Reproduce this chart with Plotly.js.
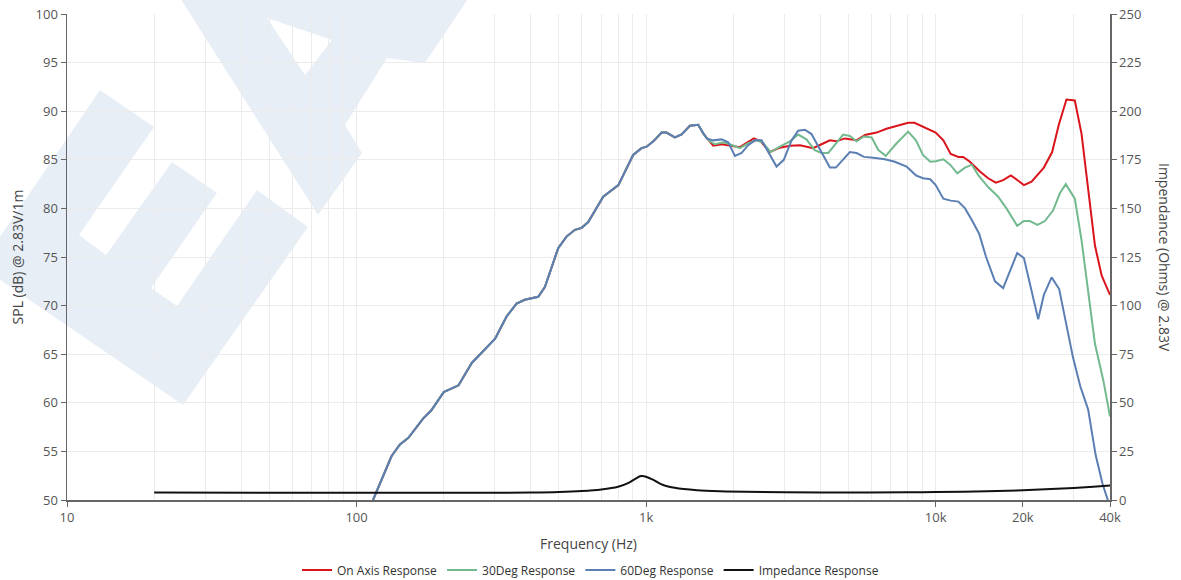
<!DOCTYPE html>
<html>
<head>
<meta charset="utf-8">
<script src="https://cdn.plot.ly/plotly-3.0.1.min.js"></script>
<style>html,body{margin:0;padding:0;background:#fff;}#chart{width:1181px;height:580px;}</style>
</head>
<body>
<div id="chart"></div>
<script>
// Shared low/mid frequency section (all three SPL curves coincide here)
const sharedFreq = [114, 132, 141, 151, 170, 181, 200, 225, 250, 301, 330, 357, 381, 424, 447, 497, 531, 568, 599, 631, 711, 802, 902, 964, 1004, 1059, 1131, 1176, 1257, 1326, 1417, 1513];
const sharedSpl  = [50.0, 54.5, 55.7, 56.4, 58.4, 59.2, 61.1, 61.8, 64.1, 66.6, 68.9, 70.2, 70.6, 70.9, 71.9, 75.9, 77.1, 77.8, 78.0, 78.6, 81.2, 82.4, 85.5, 86.2, 86.35, 86.9, 87.8, 87.8, 87.3, 87.6, 88.5, 88.6];

// On Axis Response (above 1.5 kHz)
const onAxisFreq = [1575, 1706, 1823, 1946, 2108, 2223, 2357, 2486, 2676, 2896, 3138, 3402, 3770, 4035, 4312, 4545, 4854, 5120, 5330, 5700, 6250, 6760, 7430, 8036, 8450, 9040, 9780, 10000, 10630, 11270, 11980, 12450, 13130, 14220, 15180, 16140, 17100, 18180, 19280, 20170, 21440, 23640, 25250, 26620, 28290, 30240, 31890, 33620, 35480, 37420, 40000];
const onAxisSpl  = [87.7, 86.45, 86.6, 86.45, 86.3, 86.75, 87.2, 86.9, 85.8, 86.25, 86.45, 86.5, 86.2, 86.6, 87.0, 86.9, 87.2, 87.1, 87.0, 87.55, 87.8, 88.2, 88.5, 88.8, 88.8, 88.4, 88.0, 87.8, 87.0, 85.6, 85.3, 85.3, 84.8, 83.8, 83.1, 82.65, 82.9, 83.4, 82.85, 82.4, 82.75, 84.2, 85.8, 88.6, 91.2, 91.1, 87.7, 82.2, 76.2, 73.1, 71.1];

// 30Deg Response (above 1.5 kHz)
const deg30Freq = [1575, 1660, 1730, 1847, 1946, 2108, 2251, 2406, 2536, 2690, 2896, 3138, 3350, 3578, 3823, 4035, 4256, 4484, 4792, 5055, 5330, 5651, 6013, 6339, 6727, 7330, 8036, 8546, 9040, 9580, 10000, 10630, 11220, 11880, 12630, 13330, 14050, 15180, 16440, 17560, 19120, 20170, 21140, 22470, 23820, 25450, 26840, 28140, 30240, 31890, 33620, 35480, 37930, 40000];
const deg30Spl  = [87.7, 86.9, 86.6, 86.8, 86.6, 86.2, 86.7, 87.0, 86.75, 85.8, 86.35, 86.9, 87.6, 87.1, 86.0, 85.7, 85.7, 86.5, 87.6, 87.45, 86.9, 87.4, 87.3, 86.0, 85.4, 86.7, 87.9, 87.0, 85.5, 84.8, 84.85, 85.05, 84.5, 83.6, 84.2, 84.5, 83.4, 82.2, 81.2, 80.0, 78.2, 78.7, 78.7, 78.3, 78.7, 79.8, 81.55, 82.5, 81.0, 76.75, 71.3, 66.1, 62.3, 58.6];

// 60Deg Response (above 1.5 kHz)
const deg60Freq = [1618, 1706, 1823, 1921, 2026, 2137, 2251, 2375, 2505, 2642, 2821, 2989, 3178, 3350, 3532, 3725, 4035, 4312, 4521, 5055, 5330, 5651, 6085, 6677, 7226, 7937, 8546, 9040, 9580, 10000, 10630, 11270, 11980, 12630, 13330, 14130, 14930, 16030, 17100, 19120, 20170, 21440, 22600, 23640, 25140, 26700, 28290, 29780, 31580, 33620, 35700, 37670, 39500];
const deg60Spl  = [87.2, 87.0, 87.1, 86.8, 85.4, 85.7, 86.5, 87.0, 87.0, 85.8, 84.3, 85.0, 87.0, 88.0, 88.1, 87.65, 85.7, 84.2, 84.2, 85.8, 85.7, 85.3, 85.2, 85.05, 84.8, 84.3, 83.4, 83.1, 83.0, 82.4, 81.0, 80.8, 80.7, 80.0, 78.8, 77.4, 75.0, 72.5, 71.8, 75.4, 74.9, 71.6, 68.6, 71.1, 72.9, 71.7, 67.8, 64.7, 61.7, 59.3, 54.6, 51.7, 49.8];

// Impedance Response (Ohms)
const impFreq = [20, 50, 100, 200, 300, 400, 500, 600, 700, 800, 870, 920, 960, 1000, 1060, 1120, 1200, 1350, 1500, 1800, 2200, 3000, 5000, 8000, 10000, 15000, 20000, 25000, 30000, 35000, 40000];
const impOhms = [3.8, 3.75, 3.7, 3.7, 3.75, 3.85, 4.1, 4.6, 5.4, 6.8, 8.8, 11.0, 12.3, 12.0, 10.3, 8.3, 6.8, 5.6, 5.0, 4.5, 4.2, 4.0, 3.9, 4.0, 4.1, 4.5, 5.0, 5.6, 6.2, 6.8, 7.4];

// Axis ticks
const xTickVals = [10, 100, 1000, 10000, 20000, 40000];
const xTickText = ['10', '100', '1k', '10k', '20k', '40k'];
const xMinorVals = [20,30,40,50,60,70,80,90,200,300,400,500,600,700,800,900,2000,3000,4000,5000,6000,7000,8000,9000,30000];

const seriesNames = ['On Axis Response', '30Deg Response', '60Deg Response', 'Impedance Response'];
const seriesColors = ['#d9141b', '#72b98e', '#5b7fb3', '#111111'];

const traces = [
  {x: sharedFreq.concat(onAxisFreq), y: sharedSpl.concat(onAxisSpl), name: seriesNames[0], line: {color: seriesColors[0]}},
  {x: sharedFreq.concat(deg30Freq), y: sharedSpl.concat(deg30Spl), name: seriesNames[1], line: {color: seriesColors[1]}},
  {x: sharedFreq.concat(deg60Freq), y: sharedSpl.concat(deg60Spl), name: seriesNames[2], line: {color: seriesColors[2]}},
  {x: impFreq, y: impOhms, name: seriesNames[3], yaxis: 'y2', line: {color: seriesColors[3], shape: 'spline'}}
].map(t => Object.assign({type: 'scatter', mode: 'lines', cliponaxis: true}, t, {line: Object.assign({width: 2}, t.line)}));

// faint background watermark (decoration)
const wm = "<svg xmlns='http://www.w3.org/2000/svg' width='1181' height='580' viewBox='0 0 1181 580'>" +
  "<path fill='#e8eef6' d='M100,90 L154,127 L79,235 L106,255 L172,162 L217,193 L151,288 L177,306 L257,190 L308,227 L183,405 L-20,266 Z'/>" +
  "<path fill='#e8eef6' fill-rule='evenodd' d='M175,-10 L318,215 L362,153 L345,125 L387,58 L425,63 L474,-10 Z M267,18 L332,40 L305,75 Z'/>" +
  "</svg>";

const L = 67, R = 71, T = 14, B = 80, W = 1181, H = 580;
const pw = W - L - R, ph = H - T - B;

const layout = {
  width: W, height: H,
  margin: {l: L, r: R, t: T, b: B, autoexpand: false},
  paper_bgcolor: '#ffffff',
  plot_bgcolor: 'rgba(0,0,0,0)',
  font: {family: '"Open Sans", "DejaVu Sans", sans-serif', color: '#555'},
  showlegend: true,
  legend: {orientation: 'h', xref: 'container', yref: 'container', x: 0.5, xanchor: 'center',
           y: (580 - 570) / 580, yanchor: 'middle',
           font: {size: 12, color: '#333'}, itemwidth: 30, tracegroupgap: 0},
  xaxis: {
    type: 'log', range: [1, Math.log10(40000)], automargin: false,
    tickmode: 'array', tickvals: xTickVals, ticktext: xTickText,
    showgrid: true, gridcolor: '#ebebeb', gridwidth: 1,
    minor: {tickmode: 'array', tickvals: xMinorVals, showgrid: true, gridcolor: '#ebebeb', ticks: ''},
    showline: true, linecolor: '#666', linewidth: 1.5,
    ticks: 'outside', ticklen: 5, tickcolor: '#666',
    tickfont: {size: 13, color: '#555'},
    zeroline: false,
    title: {text: 'Frequency (Hz)', font: {size: 14, color: '#444'}, standoff: 14}
  },
  yaxis: {
    range: [50, 100], dtick: 5, tick0: 50, automargin: false,
    showgrid: true, gridcolor: '#ebebeb',
    showline: true, linecolor: '#666', linewidth: 1.5,
    ticks: 'outside', ticklen: 5, tickcolor: '#666',
    tickfont: {size: 13, color: '#555'},
    zeroline: false,
    title: {text: 'SPL (dB) @ 2.83V/1m', font: {size: 14, color: '#444'}, standoff: 8}
  },
  yaxis2: {
    overlaying: 'y', side: 'right', automargin: false,
    range: [0, 250], dtick: 25, tick0: 0,
    showgrid: false, zeroline: false,
    showline: true, linecolor: '#666', linewidth: 1.5,
    ticks: 'outside', ticklen: 5, tickcolor: '#666',
    tickfont: {size: 13, color: '#555'}
  },
  annotations: [{
    text: 'Impendance (Ohms) @ 2.83V', textangle: 90,
    xref: 'paper', yref: 'paper', x: (1165 - L) / pw, y: 0.5,
    xanchor: 'center', yanchor: 'middle', showarrow: false,
    font: {size: 14, color: '#444'}
  }],
  images: [{
    source: 'data:image/svg+xml;charset=utf-8,' + encodeURIComponent(wm),
    xref: 'paper', yref: 'paper',
    x: -L / pw, y: 1 + T / ph, sizex: W / pw, sizey: H / ph,
    xanchor: 'left', yanchor: 'top', sizing: 'stretch', layer: 'below'
  }]
};

Plotly.newPlot('chart', traces, layout, {displayModeBar: false, staticPlot: true});
</script>
</body>
</html>
